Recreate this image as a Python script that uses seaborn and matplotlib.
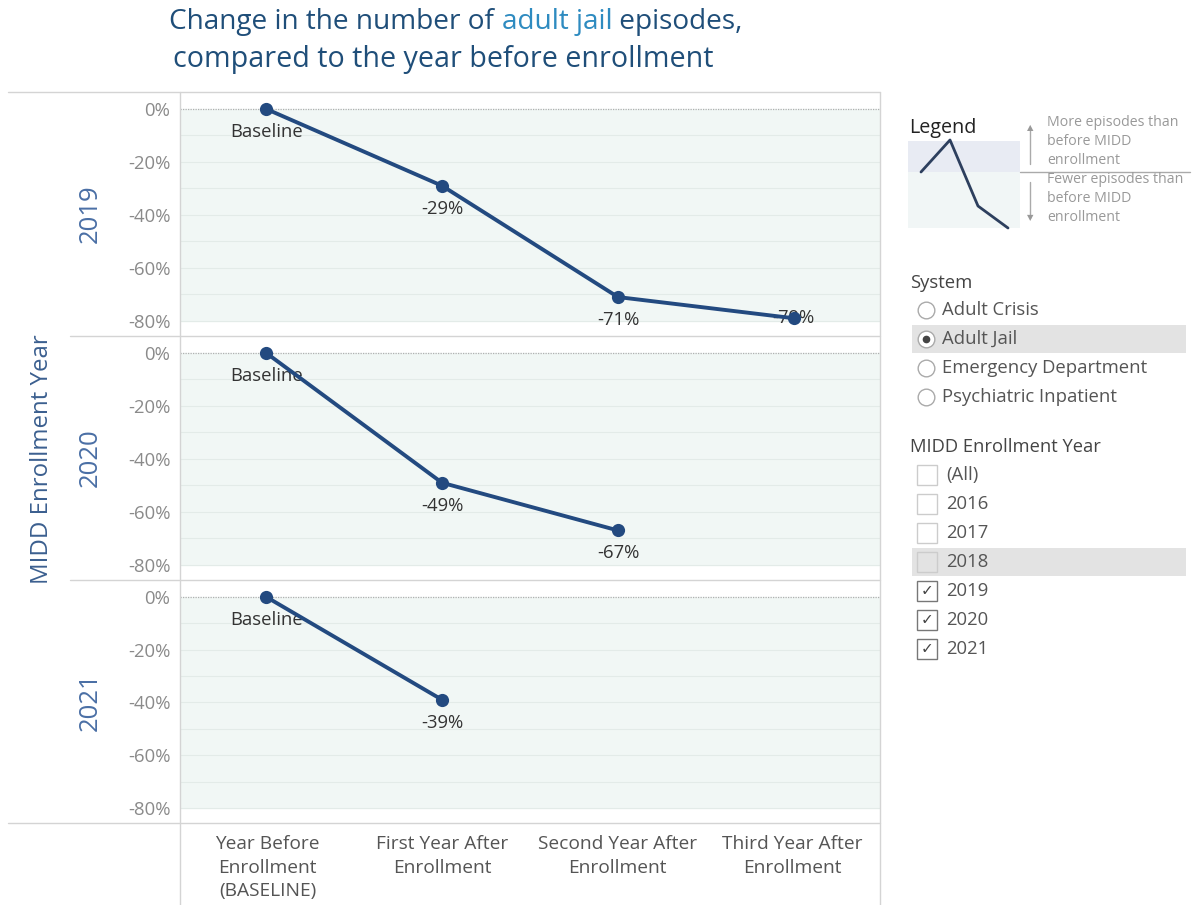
import numpy as np
import pandas as pd
import matplotlib
matplotlib.use("Agg")
import matplotlib.pyplot as plt
from matplotlib.patches import Rectangle
from matplotlib.lines import Line2D
import seaborn as sns

# Data
years = [2019, 2020, 2021]
steps = ["Year Before\nEnrollment\n(BASELINE)", "First Year After\nEnrollment",
         "Second Year After\nEnrollment", "Third Year After\nEnrollment"]
change_2019 = [0, -29, -71, -79]
change_2020 = [0, -49, -67]
change_2021 = [0, -39]
y_ticks = [0, -20, -40, -60, -80]
systems = ["Adult Crisis", "Adult Jail", "Emergency Department", "Psychiatric Inpatient"]
year_filter = ["(All)", "2016", "2017", "2018", "2019", "2020", "2021"]
year_checked = [False, False, False, False, True, True, True]

rows = []
for yr, vals in zip(years, [change_2019, change_2020, change_2021]):
    for i, v in enumerate(vals):
        rows.append({"year": yr, "step": i, "change": v})
df = pd.DataFrame(rows)

sns.set_theme(style="white")
plt.rcParams["font.family"] = ["Open Sans", "DejaVu Sans"]

W, H = 1194, 905
fig = plt.figure(figsize=(W / 100, H / 100), dpi=100)

def fx(x):
    return x / W

def fy(y):
    return 1 - y / H

line_col = "#234a80"
grid_col = "#d4d4d4"

# panel geometry in pixels
left, right = 180, 880
tops = [92, 336, 580]
bots = [336, 580, 823]

for k, yr in enumerate(years):
    ax = fig.add_axes([fx(left), fy(bots[k]), fx(right) - fx(left), (bots[k] - tops[k]) / H])
    ax.set_xlim(-0.49, 3.49)
    ax.set_ylim(-85.7, 6.4)
    ax.axhspan(-80, 0, color="#f1f7f5", zorder=0)
    for g in range(-10, -81, -10):
        ax.axhline(g, color="#e3ebe8", lw=0.8, zorder=1)
    ax.axhline(0, color="#b0b0b0", lw=0.9, ls=(0, (1, 1)), zorder=1)
    sub = df[df["year"] == yr]
    sns.lineplot(data=sub, x="step", y="change", ax=ax, color=line_col, lw=2.8,
                 marker="o", markersize=9.5, markeredgewidth=0, zorder=3)
    for _, r in sub.iterrows():
        lab = "Baseline" if r["step"] == 0 else f"{int(r['change'])}%"
        # no room below the lowest point, so the label sits on it
        off = 0 if r["change"] < -75 else -16.5
        ax.annotate(lab, (r["step"], r["change"]), xytext=(0, off), textcoords="offset points",
                    ha="center", va="center", fontsize=13.3, color="#333333", zorder=2,
                    annotation_clip=False)
    ax.set_yticks(y_ticks)
    ax.set_yticklabels([f"{t}%" for t in y_ticks], fontsize=13.3, color="#8a8a8a")
    ax.tick_params(axis="y", length=0, pad=7)
    ax.set_xticks([])
    ax.set_xlabel("")
    ax.set_ylabel("")
    for s in ax.spines.values():
        s.set_visible(False)
    fig.text(fx(90), fy((tops[k] + bots[k]) / 2), str(yr), rotation=90, ha="center", va="center",
             fontsize=18.5, color="#4a6fa5")

# x category labels under the bottom panel
for i, s in enumerate(steps):
    xc = left + (i + 0.5) * (right - left) / 4
    fig.text(fx(xc), fy(835), s, ha="center", va="top", fontsize=13.8, color="#555555",
             linespacing=1.4)

# frame lines
lines = [((8, 880), (92, 92)), ((70, 880), (336, 336)), ((70, 880), (580, 580)),
         ((8, 880), (823, 823)), ((180, 180), (92, 905)), ((880, 880), (92, 905))]
for xs, ys in lines:
    fig.add_artist(Line2D([fx(xs[0]), fx(xs[1])], [fy(ys[0]), fy(ys[1])], color=grid_col, lw=1))

fig.text(fx(42), fy(459), "MIDD Enrollment Year", rotation=90, ha="center", va="center",
         fontsize=17.3, color="#3b5f8f")

# title, with "adult jail" in a lighter blue
renderer = fig.canvas.get_renderer()
parts = [("Change in the number of ", "#1f4e79"), ("adult jail", "#2e8bc0"), (" episodes,", "#1f4e79")]
widths = []
for txt, col in parts:
    t = fig.text(0, 0, txt, fontsize=20.2, color=col)
    widths.append(t.get_window_extent(renderer).width)
    t.remove()
x0 = 456 - sum(widths) / 2
for (txt, col), w in zip(parts, widths):
    fig.text(fx(x0), fy(22), txt, ha="left", va="center", fontsize=20.2, color=col)
    x0 += w
fig.text(fx(443), fy(60), "compared to the year before enrollment", ha="center", va="center",
         fontsize=20.6, color="#1f4e79")

# legend sketch
fig.add_artist(Rectangle((fx(908), fy(172)), fx(112), (172 - 141) / H, color="#e8ebf3", lw=0))
fig.add_artist(Rectangle((fx(908), fy(228)), fx(112), (228 - 172) / H, color="#f1f6f6", lw=0))
fig.add_artist(Line2D([fx(921), fx(950), fx(978), fx(1008)], [fy(172), fy(140), fy(206), fy(228)],
                      color="#2d3f5e", lw=2))
fig.add_artist(Line2D([fx(1020), fx(1190)], [fy(172), fy(172)], color="#aaaaaa", lw=1))
fig.text(fx(909), fy(128), "Legend", ha="left", va="center", fontsize=14.2, color="#222222")
fig.add_artist(Line2D([fx(1030), fx(1030)], [fy(164), fy(128)], color="#aaaaaa", lw=1))
fig.add_artist(Line2D([fx(1030), fx(1030)], [fy(182), fy(218)], color="#aaaaaa", lw=1))
fig.text(fx(1030), fy(128), "▲", ha="center", va="center", fontsize=6, color="#999999",
         family=["DejaVu Sans"])
fig.text(fx(1030), fy(218), "▼", ha="center", va="center", fontsize=6, color="#999999",
         family=["DejaVu Sans"])
fig.text(fx(1047), fy(115), "More episodes than\nbefore MIDD\nenrollment", ha="left", va="top",
         fontsize=10.2, color="#999999", linespacing=1.38)
fig.text(fx(1047), fy(172), "Fewer episodes than\nbefore MIDD\nenrollment", ha="left", va="top",
         fontsize=10.2, color="#999999", linespacing=1.38)

# System filter
fig.text(fx(910), fy(283), "System", ha="left", va="center", fontsize=13.3, color="#444444")
for i, s in enumerate(systems):
    yc = 310 + i * 29
    if s == "Adult Jail":
        fig.add_artist(Rectangle((fx(912), fy(yc + 14)), fx(1186 - 912), 28 / H, color="#e3e3e3", lw=0))
    fig.add_artist(Line2D([fx(926)], [fy(yc)], marker="o", markersize=12, mfc="white",
                          mec="#aaaaaa", mew=1, ls="none"))
    if s == "Adult Jail":
        fig.add_artist(Line2D([fx(926)], [fy(yc)], marker="o", markersize=4.5, mfc="#444444",
                              mec="#444444", ls="none"))
    fig.text(fx(942), fy(yc), s, ha="left", va="center", fontsize=13.3, color="#555555")

# enrollment year filter
fig.text(fx(910), fy(447), "MIDD Enrollment Year", ha="left", va="center", fontsize=13.2, color="#444444")
for i, (s, c) in enumerate(zip(year_filter, year_checked)):
    yc = 475 + i * 29
    if s == "2018":
        fig.add_artist(Rectangle((fx(912), fy(yc + 14)), fx(1186 - 912), 28 / H, color="#e3e3e3", lw=0))
    fig.add_artist(Rectangle((fx(917), fy(yc + 10)), fx(20), 20 / H, fill=False,
                             ec="#777777" if c else "#cccccc", lw=1))
    if c:
        fig.text(fx(927), fy(yc), "✓", ha="center", va="center", fontsize=11, color="#444444",
                 family=["DejaVu Sans"])
    fig.text(fx(946), fy(yc), s, ha="left", va="center", fontsize=13.3, color="#555555")

fig.savefig("out.png", dpi=100)
